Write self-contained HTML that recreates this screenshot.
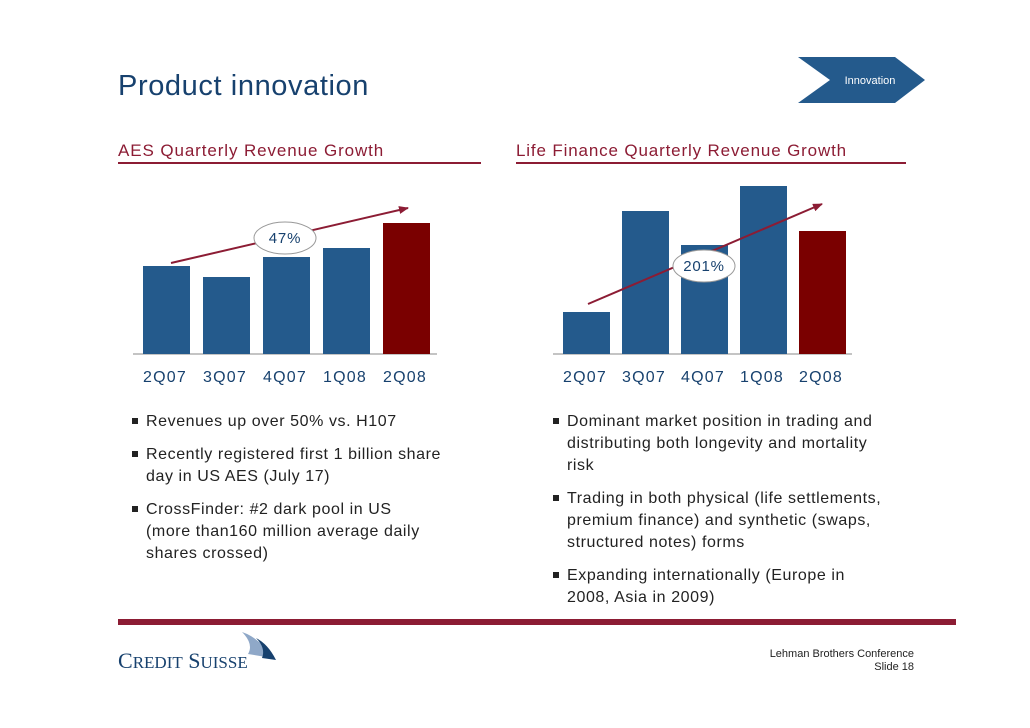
<!DOCTYPE html>
<html><head><meta charset="utf-8"><style>
body{margin:0;width:1030px;height:728px;background:#fff;overflow:hidden;position:relative;font-family:"Liberation Sans",Arial,sans-serif}
.a{position:absolute;white-space:nowrap}
.ul{position:absolute;height:2px;background:#8c1c34}
.bul{position:absolute;font-size:16px;color:#222;line-height:22px;letter-spacing:0.58px}
.bul li{list-style:none;position:relative;margin-bottom:11px;white-space:nowrap}
.bul li:before{content:"";position:absolute;left:-14px;top:7px;width:6px;height:6px;background:#222}
</style></head><body>
<div class="a" style="left:118px;top:70px;font-size:29px;color:#17416e;letter-spacing:0.6px">Product innovation</div>
<svg class="a" style="left:0;top:0" width="1030" height="728">
<polygon points="798,57 895,57 925,80 895,103 798,103 830,80" fill="#245a8c"/>
<text x="870" y="84" font-size="11" fill="#fff" text-anchor="middle" font-family="Liberation Sans,sans-serif">Innovation</text>
</svg>
<div class="a" style="left:118px;top:141px;font-size:17px;color:#8c1c34;letter-spacing:0.9px">AES Quarterly Revenue Growth</div>
<div class="ul" style="left:118px;top:162px;width:363px"></div>
<div class="a" style="left:516px;top:141px;font-size:17px;color:#8c1c34;letter-spacing:0.85px">Life Finance Quarterly Revenue Growth</div>
<div class="ul" style="left:516px;top:162px;width:390px"></div>
<svg id="ch" class="a" style="left:0;top:0" width="1030" height="728"></svg>
<ul class="bul a" style="left:132px;top:411px;margin:0;padding:0 0 0 14px;width:320px">
<li>Revenues up over 50% vs. H107</li>
<li>Recently registered first 1 billion share<br>day in US AES (July 17)</li>
<li>CrossFinder: #2 dark pool in US<br>(more than160 million average daily<br>shares crossed)</li>
</ul>
<ul class="bul a" style="left:553px;top:411px;margin:0;padding:0 0 0 14px;width:350px">
<li>Dominant market position in trading and<br>distributing both longevity and mortality<br>risk</li>
<li>Trading in both physical (life settlements,<br>premium finance) and synthetic (swaps,<br>structured notes) forms</li>
<li>Expanding internationally (Europe in<br>2008, Asia in 2009)</li>
</ul>
<div class="a" style="left:118px;top:619px;width:838px;height:6px;background:#8c1c34"></div>
<div class="a" style="left:118px;top:648px;font-family:'Liberation Serif',serif;font-size:22px;color:#17416e">C<span style="font-size:17px">REDIT</span> S<span style="font-size:17px">UISSE</span></div>
<svg class="a" style="left:238px;top:630px" width="40" height="32"><path d="M4,2 Q22,8 34,28 L10,24 Q16,14 4,2Z" fill="#8fa8c8"/><path d="M18,8 Q30,14 38,30 L24,28 Q28,18 18,8Z" fill="#17416e"/></svg>
<div class="a" style="left:700px;top:648px;width:214px;text-align:right;font-size:11px;color:#222;line-height:13px;white-space:normal">Lehman Brothers Conference<br>Slide 18</div>
<script>
const aesCats=["2Q07","3Q07","4Q07","1Q08","2Q08"];
const aesVals=[88,77,97,106,131];
const lifeCats=["2Q07","3Q07","4Q07","1Q08","2Q08"];
const lifeVals=[42,143,109,168,123];
const NS="http://www.w3.org/2000/svg";
const svg=document.getElementById('ch');
function el(t,a){const e=document.createElementNS(NS,t);for(const k in a)e.setAttribute(k,a[k]);svg.appendChild(e);return e;}
function chart(cats,vals,x0,step,pfx){
  const base=354;
  const ax=el('line',{x1:x0-10,x2:x0+step*5-6,y1:base,y2:base,stroke:'#888','stroke-width':1});
  
  
  cats.forEach((c,i)=>{
    const r=el('rect',{x:x0+i*step,y:base-vals[i],width:47,height:vals[i],fill:i==4?'#7a0000':'#245a8c'});
    
    
    const t=el('text',{x:x0+i*step+22,y:382,'font-size':16,'letter-spacing':1.2,'text-anchor':'middle',fill:'#17416e','font-family':'Liberation Sans,sans-serif'});
    t.textContent=c;
    
    
  });
}
chart(aesCats,aesVals,143,60,'aes');
chart(lifeCats,lifeVals,563,59,'life');
el('defs',{}).innerHTML='<marker id="ah" markerWidth="10" markerHeight="8" refX="9" refY="4" orient="auto" markerUnits="userSpaceOnUse"><path d="M0,0L10,4L0,8Z" fill="#8c1c34"/></marker>';
function arrow(x1,y1,x2,y2,n){const l=el('line',{x1,y1,x2,y2,stroke:'#8c1c34','stroke-width':2,'marker-end':'url(#ah)'});}
arrow(171,263,408,208,'aes-growth-arrow');
arrow(588,304,822,204,'life-growth-arrow');
function bubble(cx,cy,txt,n){const e=el('ellipse',{cx,cy,rx:31,ry:16,fill:'#fff',stroke:'#999'});
const t=el('text',{x:cx,y:cy+5,'font-size':15,'letter-spacing':0.8,'text-anchor':'middle',fill:'#17416e','font-family':'Liberation Sans,sans-serif'});t.textContent=txt;}
bubble(285,238,'47%','aes-growth-bubble');
bubble(704,266,'201%','life-growth-bubble');
</script>
</body></html>
